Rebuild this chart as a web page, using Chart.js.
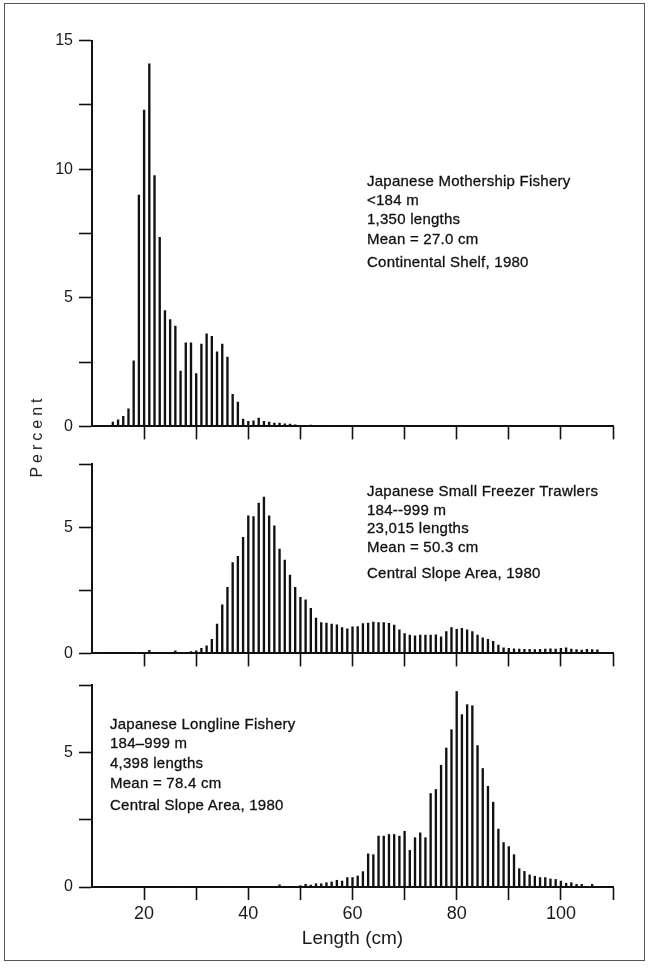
<!DOCTYPE html>
<html>
<head>
<meta charset="utf-8">
<script src="https://cdn.jsdelivr.net/npm/chart.js@4.4.1/dist/chart.umd.min.js"></script>
<style>
  html, body { margin: 0; padding: 0; background: #fff; }
  #wrap { position: relative; width: 651px; height: 969px; overflow: hidden;
          font-family: "Liberation Sans", Arial, sans-serif; color: #111; }
  canvas.cv { position: absolute; left: 0; }
  .note { position: absolute; font-size: 15px; line-height: 16px; white-space: nowrap;
          letter-spacing: 0.25px; -webkit-text-stroke: 0.3px #111; }
  #ylab { position: absolute; left: -23px; top: 426px; width: 120px; height: 20px; line-height: 20px;
          text-align: center; font-size: 16px; letter-spacing: 4px; transform: rotate(-90deg); color: #222; }
  #frame { position: absolute; left: 4px; top: 3px; width: 641px; height: 958px; border: 1px solid #555; box-sizing: border-box; }
</style>
</head>
<body>
<div id="wrap">
  <div id="frame"></div>
  <canvas id="c1" class="cv" width="651" height="442" style="top:0px"></canvas>
  <canvas id="c2" class="cv" width="651" height="229" style="top:440px"></canvas>
  <canvas id="c3" class="cv" width="651" height="294" style="top:660px"></canvas>
  <div id="ylab">Percent</div>

  <div class="note" style="left:367px;top:173px">Japanese Mothership Fishery</div>
  <div class="note" style="left:367px;top:192px">&lt;184 m</div>
  <div class="note" style="left:367px;top:211px">1,350 lengths</div>
  <div class="note" style="left:367px;top:231px">Mean = 27.0 cm</div>
  <div class="note" style="left:367px;top:254px">Continental Shelf, 1980</div>

  <div class="note" style="left:367px;top:483px">Japanese Small Freezer Trawlers</div>
  <div class="note" style="left:367px;top:502px">184--999 m</div>
  <div class="note" style="left:367px;top:520px">23,015 lengths</div>
  <div class="note" style="left:367px;top:539px">Mean = 50.3 cm</div>
  <div class="note" style="left:367px;top:565px">Central Slope Area, 1980</div>

  <div class="note" style="left:110px;top:716px">Japanese Longline Fishery</div>
  <div class="note" style="left:110px;top:735px">184–999 m</div>
  <div class="note" style="left:110px;top:755px">4,398 lengths</div>
  <div class="note" style="left:110px;top:775px">Mean = 78.4 cm</div>
  <div class="note" style="left:110px;top:797px">Central Slope Area, 1980</div>
</div>

<script>
// ---- data (length in cm, percent) ----
const lengths = [13,14,15,16,17,18,19,20,21,22,23,24,25,26,27,28,29,30,31,32,33,34,35,36,37,38,39,40,
  41,42,43,44,45,46,47,48,49,50,51,52,53,54,55,56,57,58,59,60,61,62,63,64,65,66,67,68,69,70,
  71,72,73,74,75,76,77,78,79,80,81,82,83,84,85,86,87,88,89,90,91,92,93,94,95,96,97,98,99,100,
  101,102,103,104,105,106,107,108];

const mothership = [0,0.17,0.26,0.39,0.68,2.55,9.0,12.3,14.1,9.75,7.35,4.5,4.15,3.9,2.15,3.25,3.25,2.05,3.2,3.6,3.5,2.9,3.2,2.7,1.25,0.95,0.28,0.2,
  0.22,0.32,0.2,0.17,0.13,0.13,0.1,0.09,0.06,0.04,0,0.05,0,0,0,0,0,0,0,0,0,0,0,0,0,0,0,0,0,0,
  0,0,0,0,0,0,0,0,0,0,0,0,0,0,0,0,0,0,0,0,0,0,0,0,0,0,0,0,0,0,
  0,0,0,0,0,0,0,0];

const trawlers = [0,0,0,0,0,0,0,0,0.12,0,0,0,0,0.1,0,0,0.07,0.1,0.2,0.3,0.56,1.16,1.92,2.62,3.6,3.84,4.6,5.45,
  5.42,5.95,6.19,5.45,5.05,4.13,3.7,3.1,2.62,2.22,2.12,1.78,1.4,1.22,1.2,1.16,1.13,1.02,0.97,1.05,1.06,1.18,1.2,1.24,1.22,1.22,1.19,1.12,0.93,0.78,
  0.73,0.7,0.73,0.73,0.73,0.74,0.66,0.86,1.02,0.95,0.99,0.93,0.86,0.73,0.62,0.56,0.48,0.33,0.22,0.2,0.18,0.17,0.16,0.16,0.15,0.16,0.17,0.18,0.17,0.2,
  0.22,0.17,0.15,0.13,0.16,0.15,0.14,0];

const longline = [0,0,0,0,0,0,0,0,0,0,0,0,0,0,0,0,0,0,0,0,0,0,0,0,0,0,0,0,
  0,0,0,0,0,0.08,0,0,0,0.05,0.1,0.07,0.12,0.12,0.16,0.19,0.25,0.22,0.35,0.35,0.41,0.57,1.23,1.2,1.89,1.89,1.95,1.95,1.89,2.07,
  1.36,1.83,2.01,1.83,3.47,3.62,4.52,5.16,5.84,7.26,6.4,6.77,6.73,5.25,4.4,3.74,3.15,2.15,1.65,1.5,1.2,0.68,0.58,0.45,0.4,0.35,0.35,0.3,0.28,0.22,
  0.14,0.16,0.1,0.1,0,0.1,0,0];

const xTickLabels = [20, 40, 60, 80, 100];
const yLabelStep = 5;

// ---- chart builder ----
const FONT = '"Liberation Sans", Arial, sans-serif';
function makePanel(id, values, yMax, padTop, xAxisH, showX) {
  const data = lengths.map((x, i) => ({ x: x, y: values[i] }));
  return new Chart(document.getElementById(id), {
    type: 'bar',
    data: { datasets: [{ data: data, backgroundColor: '#111', borderWidth: 0, barThickness: 1.7 }] },
    options: {
      responsive: false, animation: false, devicePixelRatio: 1, events: [],
      layout: { padding: { top: padTop, right: 38, bottom: 0, left: 0 } },
      plugins: { legend: { display: false }, tooltip: { enabled: false } },
      scales: {
        x: {
          type: 'linear', min: 10, max: 110, offset: false,
          grid: { offset: false, drawOnChartArea: false, drawTicks: true, tickLength: 13, tickWidth: 1.6, tickColor: '#111' },
          border: { display: true, color: '#111', width: 2 },
          ticks: {
            stepSize: 10, autoSkip: false, maxRotation: 0, padding: 3,
            color: '#1a1a1a', font: { size: 18, family: FONT },
            callback: (v) => v === 10 ? null : (showX && xTickLabels.includes(v) ? String(v) : '')
          },
          title: { display: showX, text: 'Length (cm)', color: '#1a1a1a', font: { size: 19, family: FONT }, padding: { top: 4, bottom: 4 } },
          afterFit: (s) => { s.height = xAxisH; }
        },
        y: {
          min: 0, max: yMax,
          grid: { drawOnChartArea: false, drawTicks: true, tickLength: 13, tickWidth: 1.6, tickColor: '#111' },
          border: { display: true, color: '#111', width: 2 },
          ticks: {
            stepSize: 2.5, autoSkip: false, padding: 6,
            color: '#1a1a1a', font: { size: 16, family: FONT },
            callback: (v) => (v % yLabelStep === 0 ? String(v) : '')
          },
          afterFit: (s) => { s.width = 92; }
        }
      }
    }
  });
}

makePanel('c1', mothership, 15, 40.7, 15, false);
makePanel('c2', trawlers, 7.5, 24, 15, false);
makePanel('c3', longline, 7.5, 25, 67, true);
</script>
</body>
</html>
